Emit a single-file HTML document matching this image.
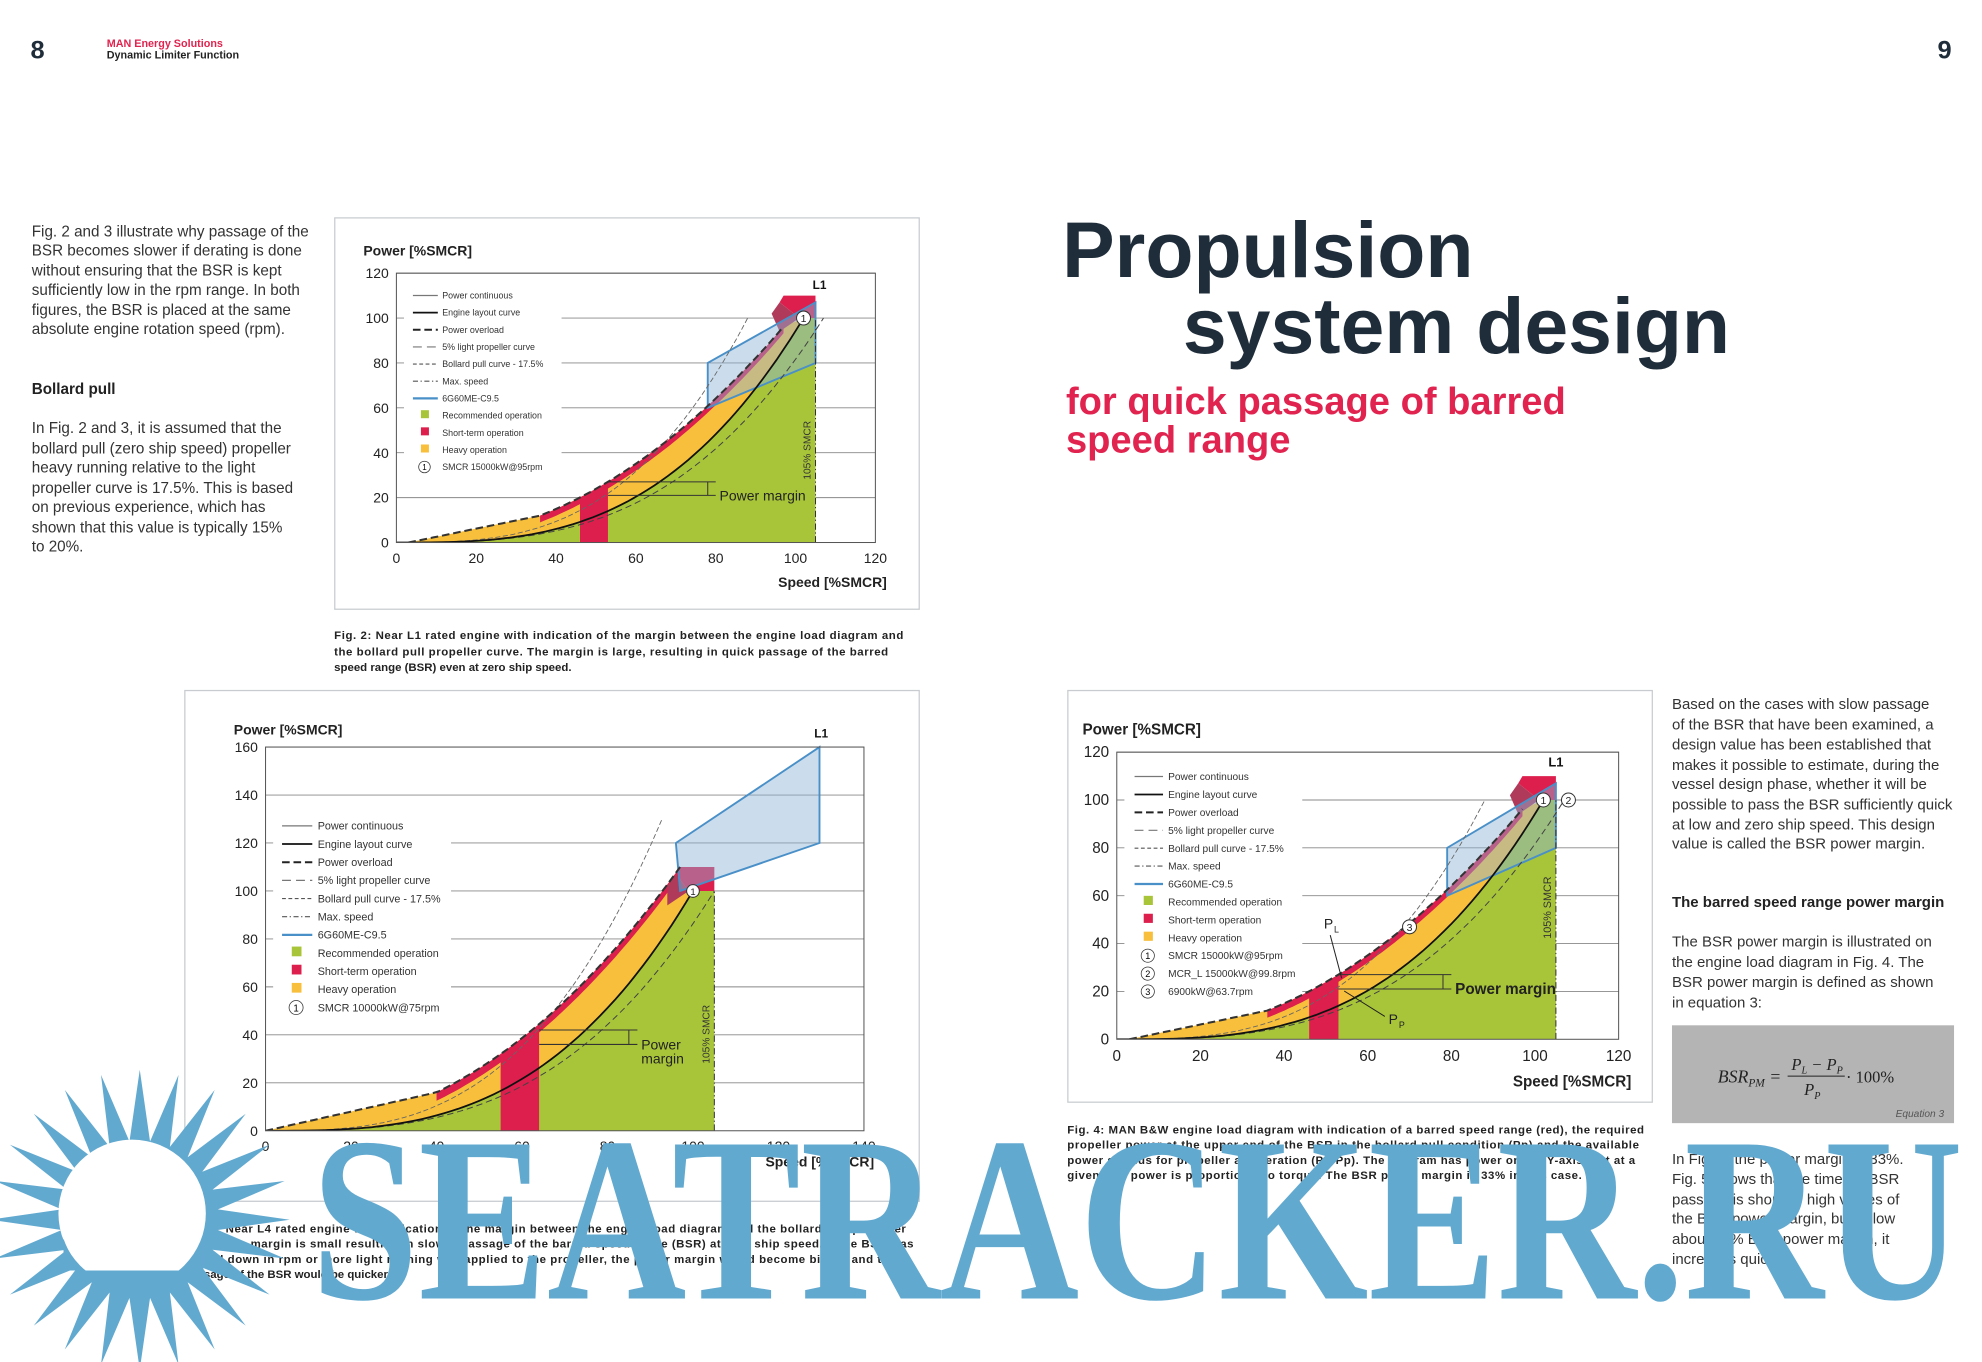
<!DOCTYPE html>
<html><head><meta charset="utf-8"><style>
html,body{margin:0;padding:0;background:#fff;width:1982px;height:1362px;overflow:hidden}
svg{display:block}
text{font-family:"Liberation Sans",sans-serif}
</style></head><body>
<svg id="pg" width="1982" height="1362" viewBox="0 0 1560 1072" xmlns="http://www.w3.org/2000/svg">
<rect width="1560" height="1072" fill="#fff"/>
<text x="24" y="46" font-size="20" font-weight="bold" fill="#1f2d3a">8</text>
<text x="84" y="37" font-size="8.5" font-weight="bold" fill="#e1234f">MAN Energy Solutions</text>
<text x="84" y="46" font-size="8.5" font-weight="bold" fill="#222">Dynamic Limiter Function</text>
<text x="1525" y="46" font-size="20" font-weight="bold" fill="#1f2d3a">9</text>
<g font-size="12" fill="#333">
<text x="25" y="186">Fig. 2 and 3 illustrate why passage of the</text>
<text x="25" y="201">BSR becomes slower if derating is done</text>
<text x="25" y="217">without ensuring that the BSR is kept</text>
<text x="25" y="232">sufficiently low in the rpm range. In both</text>
<text x="25" y="248">figures, the BSR is placed at the same</text>
<text x="25" y="263">absolute engine rotation speed (rpm).</text>
<text x="25" y="310" font-weight="bold" fill="#222">Bollard pull</text>
<text x="25" y="341">In Fig. 2 and 3, it is assumed that the</text>
<text x="25" y="357">bollard pull (zero ship speed) propeller</text>
<text x="25" y="372">heavy running relative to the light</text>
<text x="25" y="388">propeller curve is 17.5%. This is based</text>
<text x="25" y="403">on previous experience, which has</text>
<text x="25" y="419">shown that this value is typically 15%</text>
<text x="25" y="434">to 20%.</text>
</g>
<text x="836" y="218" font-size="62" font-weight="bold" fill="#1f2d3a">Propulsion</text>
<text x="931" y="278" font-size="62" font-weight="bold" fill="#1f2d3a">system design</text>
<text x="839" y="326" font-size="30" font-weight="bold" fill="#e1234f">for quick passage of barred</text>
<text x="839" y="356" font-size="30" font-weight="bold" fill="#e1234f">speed range</text>
<g font-size="11.8" fill="#333">
<text x="1316" y="558">Based on the cases with slow passage</text>
<text x="1316" y="574">of the BSR that have been examined, a</text>
<text x="1316" y="590">design value has been established that</text>
<text x="1316" y="606">makes it possible to estimate, during the</text>
<text x="1316" y="621">vessel design phase, whether it will be</text>
<text x="1316" y="637">possible to pass the BSR sufficiently quick</text>
<text x="1316" y="653">at low and zero ship speed. This design</text>
<text x="1316" y="668">value is called the BSR power margin.</text>
<text x="1316" y="714" font-weight="bold" fill="#222">The barred speed range power margin</text>
<text x="1316" y="745">The BSR power margin is illustrated on</text>
<text x="1316" y="761">the engine load diagram in Fig. 4. The</text>
<text x="1316" y="777">BSR power margin is defined as shown</text>
<text x="1316" y="793">in equation 3:</text>
<text x="1316" y="916">In Fig. 4, the power margin is 33%.</text>
<text x="1316" y="932">Fig. 5 shows that the time for BSR</text>
<text x="1316" y="948">passage is short for high values of</text>
<text x="1316" y="963">the BSR power margin, but below</text>
<text x="1316" y="979">about 10% BSR power margin, it</text>
<text x="1316" y="995">increases quickly.</text>
</g>
<rect x="1316" y="807" width="222" height="77" fill="#b4b4b4"/>
<g font-style="italic" fill="#222">
<text x="1352" y="852" font-size="14" style="font-family:'Liberation Serif',serif">BSR<tspan font-size="9" dy="3">PM</tspan><tspan dy="-3"> =</tspan></text>
<text x="1410" y="842" font-size="13" style="font-family:'Liberation Serif',serif">P<tspan font-size="8" dy="3">L</tspan><tspan dy="-3"> − P</tspan><tspan font-size="8" dy="3">P</tspan></text>
<line x1="1407" y1="847" x2="1452" y2="847" stroke="#222" stroke-width="0.8"/>
<text x="1420" y="862" font-size="13" style="font-family:'Liberation Serif',serif">P<tspan font-size="8" dy="3">P</tspan></text>
<text x="1453" y="852" font-size="13" font-style="normal" style="font-family:'Liberation Serif',serif">· 100%</text>
<text x="1492" y="879" font-size="8" fill="#555">Equation 3</text>
</g>
<rect x="263.5" y="171.5" width="460" height="308" fill="#fff" stroke="#c8ccd0"/>
<rect x="145.5" y="543.5" width="578" height="402" fill="#fff" stroke="#c8ccd0"/>
<rect x="840.5" y="543.5" width="460" height="324" fill="#fff" stroke="#c8ccd0"/>
<g id="c2"></g><g id="c3"></g><g id="c4"></g>
<g font-size="9" font-weight="bold" fill="#222">
<text x="263" y="503" textLength="448">Fig. 2: Near L1 rated engine with indication of the margin between the engine load diagram and</text>
<text x="263" y="516" textLength="436">the bollard pull propeller curve. The margin is large, resulting in quick passage of the barred</text>
<text x="263" y="528">speed range (BSR) even at zero ship speed.</text>
<text x="145" y="970" textLength="568">Fig. 3: Near L4 rated engine with indication of the margin between the engine load diagram and the bollard pull propeller</text>
<text x="145" y="982" textLength="574">curve. The margin is small resulting in slower passage of the barred speed range (BSR) at zero ship speed. If the BSR was</text>
<text x="145" y="994" textLength="560">moved down in rpm or more light running was applied to the propeller, the power margin would become bigger and the</text>
<text x="145" y="1006">passage of the BSR would be quicker.</text>
<text x="840" y="892" textLength="454">Fig. 4: MAN B&amp;W engine load diagram with indication of a barred speed range (red), the required</text>
<text x="840" y="904" textLength="450">propeller power at the upper end of the BSR in the bollard pull condition (Pp) and the available</text>
<text x="840" y="916" textLength="447">power surplus for propeller acceleration (PL-Pp). The diagram has power on the Y-axis, but at a</text>
<text x="840" y="928" textLength="405">given rpm power is proportional to torque. The BSR power margin is 33% in this case.</text>
</g>
<g id="sun"></g>
<text x="245" y="1022" font-size="185" font-weight="bold" fill="#62a9d0" textLength="1300" lengthAdjust="spacingAndGlyphs" style="font-family:'Liberation Serif',serif">SEATRACKER.RU</text>
</svg>
<script>
var NS="http://www.w3.org/2000/svg";
function el(p,t,a,txt){var e=document.createElementNS(NS,t);for(var k in a)e.setAttribute(k,a[k]);if(txt!=null)e.textContent=txt;p.appendChild(e);return e;}
var cid=0;
function chart(id,o){
 var g0=document.getElementById(id);
 var X=function(s){return o.x0+(o.x1-o.x0)*s/o.sm},Y=function(p){return o.y1-(o.y1-o.y0)*p/o.pm};
 var pts=function(f,a,b){var r=[];for(var s=a;s<=b+1e-9;s+=(b-a)/60)r.push(X(s).toFixed(1)+","+Y(f(s)).toFixed(1));return r;};
 var lay=function(s){return 100*Math.pow(s/o.lz,3)};
 var env=function(s){return s<o.k? o.kp*(s-o.e0)/(o.k-o.e0): o.kp*Math.pow(s/o.k,o.n)};
 var cp=el(g0,"clipPath",{id:"cl"+(++cid)});el(cp,"rect",{x:o.x0,y:o.y0-20,width:o.x1-o.x0,height:o.y1-o.y0+20});
 for(var p=20;p<=o.pm;p+=20){el(g0,"line",{x1:o.x0,x2:o.x1,y1:Y(p),y2:Y(p),stroke:"#888","stroke-width":0.7});}
 el(g0,"rect",{x:o.lx0,y:o.ly0,width:o.lw,height:o.lh,fill:"#fff"});
 var g=el(g0,"g",{"clip-path":"url(#cl"+cid+")"});
 var gp=pts(lay,0,o.lz);gp.push(X(105)+","+Y(100));gp.push(X(105)+","+Y(0));
 el(g,"polygon",{points:gp.join(" "),fill:"#a8c53a"});
 var yp=pts(env,o.e0,97);yp.push(X(o.lz)+","+Y(100));yp=yp.concat(pts(lay,o.e0,o.lz).reverse());
 el(g,"polygon",{points:yp.join(" "),fill:"#f7bf3c"});
 var rp=pts(env,o.k,97).concat(pts(function(s){return env(s)-o.rs},o.k,97).reverse());
 el(g,"polygon",{points:rp.join(" "),fill:"#dc1f4d"});
 el(g,"polygon",{points:[X(96)+","+Y(107),X(97)+","+Y(110),X(105)+","+Y(110),X(105)+","+Y(100),X(o.lz-1)+","+Y(100)].join(" "),fill:"#dc1f4d"});
 el(g,"polygon",{points:[X(o.lz-6)+","+Y(94),X(o.lz-1)+","+Y(100),X(96)+","+Y(107),X(94)+","+Y(102)].join(" "),fill:"#b03a5a"});
 var bp=pts(env,o.b0,o.b1);bp.push(X(o.b1)+","+Y(0));bp.push(X(o.b0)+","+Y(0));
 el(g,"polygon",{points:bp.join(" "),fill:"#dc1f4d"});
 el(g,"polygon",{points:o.box.map(function(q){return X(q[0])+","+Y(q[1])}).join(" "),fill:"rgba(140,180,215,0.45)",stroke:"#4a90c8","stroke-width":1.5});
 el(g,"polyline",{points:pts(function(s){return 100*Math.pow(s/o.lt,3)},0,o.lt*Math.cbrt(o.lc/100)).join(" "),fill:"none",stroke:"#444","stroke-width":0.8,"stroke-dasharray":"5,3"});
 el(g,"polyline",{points:pts(function(s){return 100*Math.pow(s/o.bz,3)},0,o.bz*Math.cbrt(o.bc/100)).join(" "),fill:"none",stroke:"#666","stroke-width":0.7,"stroke-dasharray":"4,2"});
 el(g,"polyline",{points:pts(lay,0,o.lz).join(" "),fill:"none",stroke:"#111","stroke-width":1.4});
 el(g,"polyline",{points:pts(env,o.e0,97).join(" "),fill:"none",stroke:"#333","stroke-width":1.6,"stroke-dasharray":"6,3"});
 el(g,"line",{x1:X(105),x2:X(105),y1:Y(0),y2:Y(100),stroke:"#333","stroke-width":0.8,"stroke-dasharray":"5,2,1,2"});
 var tx=X(105)-4,ty=Y(o.vt);
 el(g0,"text",{x:tx,y:ty,"font-size":o.vf,transform:"rotate(-90 "+tx+" "+ty+")",fill:"#333"},"105% SMCR");
 el(g0,"rect",{x:o.x0,y:o.y0,width:o.x1-o.x0,height:o.y1-o.y0,fill:"none",stroke:"#555","stroke-width":0.8});
 for(var p=0;p<=o.pm;p+=20)el(g0,"text",{x:o.x0-6,y:Y(p)+4,"font-size":o.tf,"text-anchor":"end",fill:"#222"},p);
 for(var s=0;s<=o.sm;s+=20)el(g0,"text",{x:X(s),y:o.y1+o.tf+5,"font-size":o.tf,"text-anchor":"middle",fill:"#222"},s);
 el(g0,"text",{x:o.px,y:o.py,"font-size":o.tf,"font-weight":"bold",fill:"#222"},"Power [%SMCR]");
 el(g0,"text",{x:o.sx,y:o.sy,"font-size":o.tf,"font-weight":"bold","text-anchor":"end",fill:"#222"},"Speed [%SMCR]");
 el(g0,"text",{x:X(o.l1[0]),y:Y(o.l1[1]),"font-size":o.tf*0.85,"font-weight":"bold","text-anchor":"middle",fill:"#111"},"L1");
 var m=o.pmg;
 el(g0,"line",{x1:X(o.b1),x2:X(m.s2),y1:Y(m.p1),y2:Y(m.p1),stroke:"#333","stroke-width":0.8});
 el(g0,"line",{x1:X(o.b1),x2:X(m.s2),y1:Y(m.p2),y2:Y(m.p2),stroke:"#333","stroke-width":0.8});
 el(g0,"line",{x1:X(m.s2-2),x2:X(m.s2-2),y1:Y(m.p1),y2:Y(m.p2),stroke:"#333","stroke-width":0.8});
 m.t.forEach(function(t,i){el(g0,"text",{x:X(m.s2)+3,y:Y(m.p2)+4+i*m.f,"font-size":m.f,"font-weight":m.b?"bold":"normal",fill:"#222"},t)});
 o.mk.forEach(function(q){el(g0,"circle",{cx:X(q[0]),cy:Y(q[1]),r:o.mr,fill:"#fff",stroke:"#333","stroke-width":0.8});el(g0,"text",{x:X(q[0]),y:Y(q[1])+o.mr*0.6,"font-size":o.mr*1.5,"text-anchor":"middle",fill:"#222"},q[2]);});
 var L=["Power continuous","Engine layout curve","Power overload","5% light propeller curve","Bollard pull curve - 17.5%","Max. speed","6G60ME-C9.5","Recommended operation","Short-term operation","Heavy operation"].concat(o.leg);
 L.forEach(function(t,i){var y=o.ly+i*o.ld,x=o.lx;
  if(i<7){var st=[{s:"#777",w:1},{s:"#111",w:1.4},{s:"#222",w:1.6,d:"6,3"},{s:"#777",w:0.9,d:"7,4"},{s:"#555",w:0.9,d:"3,2"},{s:"#555",w:0.9,d:"4,2,1,2"},{s:"#4a90c8",w:1.8}][i];
   var a={x1:x,x2:x+o.lf*2.8,y1:y-o.lf*0.35,y2:y-o.lf*0.35,stroke:st.s,"stroke-width":st.w};if(st.d)a["stroke-dasharray"]=st.d;el(g0,"line",a);}
  else if(i<10){el(g0,"rect",{x:x+o.lf*0.9,y:y-o.lf*0.95,width:o.lf*0.9,height:o.lf*0.9,fill:["#a8c53a","#dc1f4d","#f7bf3c"][i-7]});}
  else{el(g0,"circle",{cx:x+o.lf*1.3,cy:y-o.lf*0.35,r:o.lf*0.65,fill:"#fff",stroke:"#333","stroke-width":0.6});el(g0,"text",{x:x+o.lf*1.3,y:y,"font-size":o.lf*0.9,"text-anchor":"middle"},i-9);}
  el(g0,"text",{x:x+o.lf*3.3,y:y,"font-size":o.lf,fill:"#333"},t);});
 if(o.extra)o.extra(g0,X,Y);
}
chart("c2",{x0:312,x1:689,y0:215,y1:427,sm:120,pm:120,lz:102,lt:107,lc:100,bz:88,bc:100,e0:3,k:36,kp:12,n:2.1,rs:3,b0:46,b1:53,
 box:[[78,60],[78,80],[105,107],[105,80]],vt:28,vf:8,tf:11,px:286,py:201,sx:698,sy:462,l1:[106,113],
 pmg:{p1:27,p2:21,s2:80,t:["Power margin"],f:11},mk:[[102,100,"1"]],mr:5.5,
 lx0:318,ly0:222,lw:124,lh:152,lx:325,ly:235,ld:13.5,lf:7,leg:["SMCR 15000kW@95rpm"]});
chart("c3",{x0:209,x1:680,y0:588,y1:890,sm:140,pm:160,lz:100,lt:105,lc:100,bz:85,bc:130,e0:0,k:40,kp:16,n:2.176,rs:3.5,b0:55,b1:64,
 box:[[96,120],[129.6,160],[129.6,120],[97,100]],vt:28,vf:8,tf:11,px:184,py:578,sx:688,sy:918,l1:[130,164],
 pmg:{p1:42,p2:36,s2:87,t:["Power","margin"],f:11},mk:[[100,100,"1"]],mr:5,
 lx0:215,ly0:638,lw:140,lh:162,lx:222,ly:653,ld:14.3,lf:8.5,leg:["SMCR 10000kW@75rpm"]});
chart("c4",{x0:879,x1:1274,y0:592,y1:818,sm:120,pm:120,lz:102,lt:107,lc:100,bz:88,bc:100,e0:3,k:36,kp:12,n:2.1,rs:3,b0:46,b1:53,
 box:[[79,60],[79,80],[105,107],[105,80]],vt:42,vf:8.5,tf:12,px:852,py:578,sx:1284,sy:855,l1:[105,114],
 pmg:{p1:27,p2:21,s2:80,t:["Power margin"],f:12,b:1},mk:[[102,100,"1"],[108,100,"2"],[70,47,"3"]],mr:5.5,
 lx0:885,ly0:600,lw:140,lh:190,lx:893,ly:614,ld:14.1,lf:8,leg:["SMCR 15000kW@95rpm","MCR_L 15000kW@99.8rpm","6900kW@63.7rpm"],
 extra:function(g,X,Y){el(g,"text",{x:1042,y:731,"font-size":11,fill:"#222"},"P");el(g,"text",{x:1050,y:734,"font-size":7,fill:"#222"},"L");
  el(g,"line",{x1:1047,y1:736,x2:1056,y2:770,stroke:"#222","stroke-width":0.8});
  el(g,"text",{x:1093,y:806,"font-size":11,fill:"#222"},"P");el(g,"text",{x:1101,y:809,"font-size":7,fill:"#222"},"P");
  el(g,"line",{x1:1090,y1:800,x2:1058,y2:780,stroke:"#222","stroke-width":0.8});}});
(function(){var g=document.getElementById("sun"),cx=110,cy=960,pts=[];
 for(var i=0;i<48;i++){var a=i*Math.PI/24,r=i%2?62:118;pts.push((cx+r*Math.cos(a)).toFixed(1)+","+(cy+r*Math.sin(a)).toFixed(1));}
 el(g,"polygon",{points:pts.join(" "),fill:"#62a9d0"});
 el(g,"circle",{cx:104,cy:955,r:58,fill:"#fff"});
 el(g,"path",{d:"M50 975 A58 58 0 0 0 160 975 L160 1000 L50 1000Z",fill:"#62a9d0"});
})();
</script>
</body></html>
